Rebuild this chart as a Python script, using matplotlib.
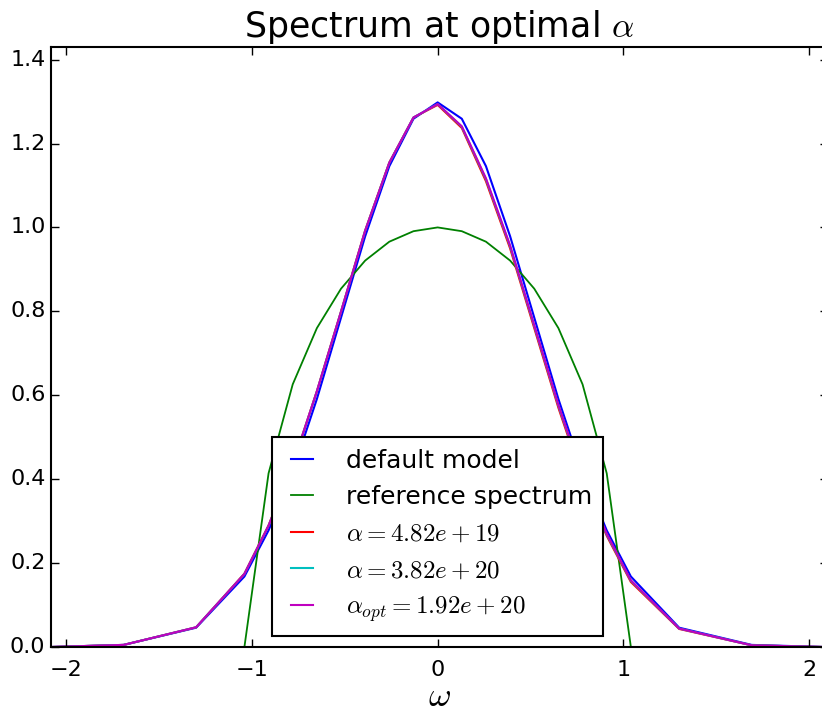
import numpy as np
import matplotlib
matplotlib.use("Agg")
import matplotlib.pyplot as plt

plt.style.use("classic")

# frequency grids
omega_model = [-2.08, -1.69, -1.30, -1.04, -0.91, -0.78, -0.65, -0.52, -0.39, -0.26, -0.13,
               0.0, 0.13, 0.26, 0.39, 0.52, 0.65, 0.78, 0.91, 1.04, 1.30, 1.69, 2.08]
omega_ref = [-1.43, -1.30, -1.17, -1.04, -0.91, -0.78, -0.65, -0.52, -0.39, -0.26, -0.13,
             0.0, 0.13, 0.26, 0.39, 0.52, 0.65, 0.78, 0.91, 1.04, 1.17, 1.30, 1.43]

default_model = [0.0, 0.005, 0.046, 0.168, 0.278, 0.418, 0.591, 0.785, 0.979, 1.146, 1.259,
                 1.298, 1.259, 1.146, 0.979, 0.785, 0.591, 0.418, 0.278, 0.168, 0.046, 0.005, 0.0]
reference = [0.0, 0.0, 0.0, 0.0, 0.414, 0.626, 0.760, 0.854, 0.921, 0.966, 0.991,
             1.0, 0.991, 0.966, 0.921, 0.854, 0.760, 0.626, 0.414, 0.0, 0.0, 0.0, 0.0]
spec_a1 = [0.0, 0.005, 0.047, 0.175, 0.290, 0.435, 0.610, 0.800, 0.993, 1.155, 1.262,
           1.292, 1.237, 1.110, 0.950, 0.760, 0.570, 0.400, 0.265, 0.155, 0.043, 0.004, 0.0]
spec_a2 = [0.0, 0.005, 0.047, 0.174, 0.289, 0.434, 0.609, 0.799, 0.992, 1.154, 1.262,
           1.294, 1.240, 1.115, 0.955, 0.765, 0.575, 0.405, 0.268, 0.158, 0.044, 0.004, 0.0]
spec_opt = [0.0, 0.005, 0.047, 0.174, 0.289, 0.434, 0.609, 0.799, 0.992, 1.154, 1.262,
            1.294, 1.241, 1.117, 0.957, 0.767, 0.577, 0.407, 0.270, 0.159, 0.044, 0.004, 0.0]

fig = plt.figure(figsize=(8.22, 7.15), dpi=100, facecolor="white")
ax = fig.add_axes([51 / 822, 68 / 715, 777 / 822, 600 / 715])

ax.plot(omega_model, default_model, "b", lw=1.5, label="default model")
ax.plot(omega_ref, reference, "g", lw=1.3, label="reference spectrum")
ax.plot(omega_model, spec_a1, "r", lw=1.5, label=r"$\alpha = 4.82e+19$")
ax.plot(omega_model, spec_a2, "c", lw=1.5, label=r"$\alpha = 3.82e+20$")
ax.plot(omega_model, spec_opt, "m", lw=1.5, label=r"$\alpha_{opt} = 1.92e+20$")

ax.set_xlim(-2.081, 2.101)
ax.set_ylim(0, 1.43)
ax.set_xticks([-2, -1, 0, 1, 2])
ax.set_yticks([0.0, 0.2, 0.4, 0.6, 0.8, 1.0, 1.2, 1.4])
ax.tick_params(labelsize=16, length=6, width=1)
ax.tick_params(axis="x", pad=9)
for s in ax.spines.values():
    s.set_linewidth(1.5)

ax.set_title(r"Spectrum at optimal $\alpha$", fontsize=25, y=1.005)
ax.set_xlabel(r"$\omega$", fontsize=25, labelpad=0)

# legend centred on omega = 0
leg = ax.legend(loc="lower center", bbox_to_anchor=(0.4976, 0.0), fontsize=18,
                handlelength=1.5, handletextpad=1.0, labelspacing=0.5,
                borderaxespad=0.45, borderpad=0.45)
leg.get_frame().set_linewidth(1.5)

fig.savefig("out.png", dpi=100)
